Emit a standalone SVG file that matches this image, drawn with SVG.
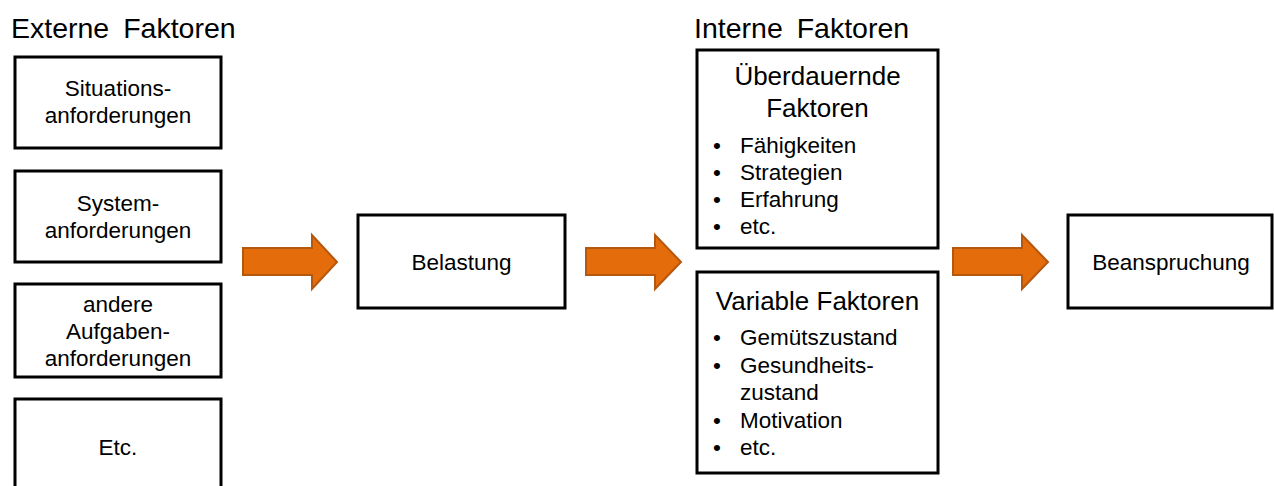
<svg xmlns="http://www.w3.org/2000/svg" width="1274" height="486" viewBox="0 0 1274 486">
  <style>
    .box { fill: #ffffff; stroke: #000000; stroke-width: 3; }
    .t { font-family: "Liberation Sans", Arial, sans-serif; font-size: 22.5px; fill: #000000; }
    .c { text-anchor: middle; }
    .h { font-family: "Liberation Sans", Arial, sans-serif; font-size: 28.5px; fill: #000000; word-spacing: 6px; }
    .sh { font-family: "Liberation Sans", Arial, sans-serif; font-size: 26px; fill: #000000; text-anchor: middle; }
    .arrow { fill: #E46C0A; stroke: #B4570F; stroke-width: 2; stroke-linejoin: miter; }
  </style>
  <rect width="1274" height="486" fill="#ffffff"/>

  <text class="h" x="11" y="38">Externe Faktoren</text>
  <text class="h" x="694" y="38">Interne Faktoren</text>

  <g id="situations">
    <rect class="box" x="15" y="57" width="206" height="91"/>
    <text class="t c" x="118" y="96">Situations-</text>
    <text class="t c" x="118" y="123">anforderungen</text>
  </g>
  <g id="system">
    <rect class="box" x="15" y="171" width="206" height="91"/>
    <text class="t c" x="118" y="211">System-</text>
    <text class="t c" x="118" y="238">anforderungen</text>
  </g>
  <g id="andere">
    <rect class="box" x="15" y="284" width="206" height="93"/>
    <text class="t c" x="118" y="311.5">andere</text>
    <text class="t c" x="118" y="338.5">Aufgaben-</text>
    <text class="t c" x="118" y="365.5">anforderungen</text>
  </g>
  <g id="etc">
    <rect class="box" x="15" y="399" width="206" height="96"/>
    <text class="t c" x="118" y="455">Etc.</text>
  </g>

  <g id="belastung">
    <rect class="box" x="358" y="215" width="207" height="93"/>
    <text class="t c" x="461.5" y="269.5">Belastung</text>
  </g>

  <g id="ueberdauernde">
    <rect class="box" x="697" y="50" width="241" height="198"/>
    <text class="sh" x="817.5" y="85">Überdauernde</text>
    <text class="sh" x="817.5" y="117">Faktoren</text>
    <text class="t" x="713" y="153">•</text><text class="t" x="740" y="153">Fähigkeiten</text>
    <text class="t" x="713" y="180">•</text><text class="t" x="740" y="180">Strategien</text>
    <text class="t" x="713" y="207">•</text><text class="t" x="740" y="207">Erfahrung</text>
    <text class="t" x="713" y="234">•</text><text class="t" x="740" y="234">etc.</text>
  </g>

  <g id="variable">
    <rect class="box" x="697" y="272" width="241" height="201"/>
    <text class="sh" x="817.5" y="310">Variable Faktoren</text>
    <text class="t" x="713" y="345">•</text><text class="t" x="740" y="345">Gemütszustand</text>
    <text class="t" x="713" y="372.5">•</text><text class="t" x="740" y="372.5">Gesundheits-</text>
    <text class="t" x="740" y="400">zustand</text>
    <text class="t" x="713" y="427.5">•</text><text class="t" x="740" y="427.5">Motivation</text>
    <text class="t" x="713" y="455">•</text><text class="t" x="740" y="455">etc.</text>
  </g>

  <g id="beanspruchung">
    <rect class="box" x="1068" y="215" width="204" height="93"/>
    <text class="t c" x="1171" y="269.5">Beanspruchung</text>
  </g>

  <g id="connectors">
    <polygon class="arrow" points="243,248 312,248 312,235 337,262 312,289 312,275 243,275"/>
    <polygon class="arrow" points="586,248 655,248 655,235 681,262 655,289 655,275 586,275"/>
    <polygon class="arrow" points="953,248 1022,248 1022,235 1048,262 1022,289 1022,275 953,275"/>
  </g>
</svg>
